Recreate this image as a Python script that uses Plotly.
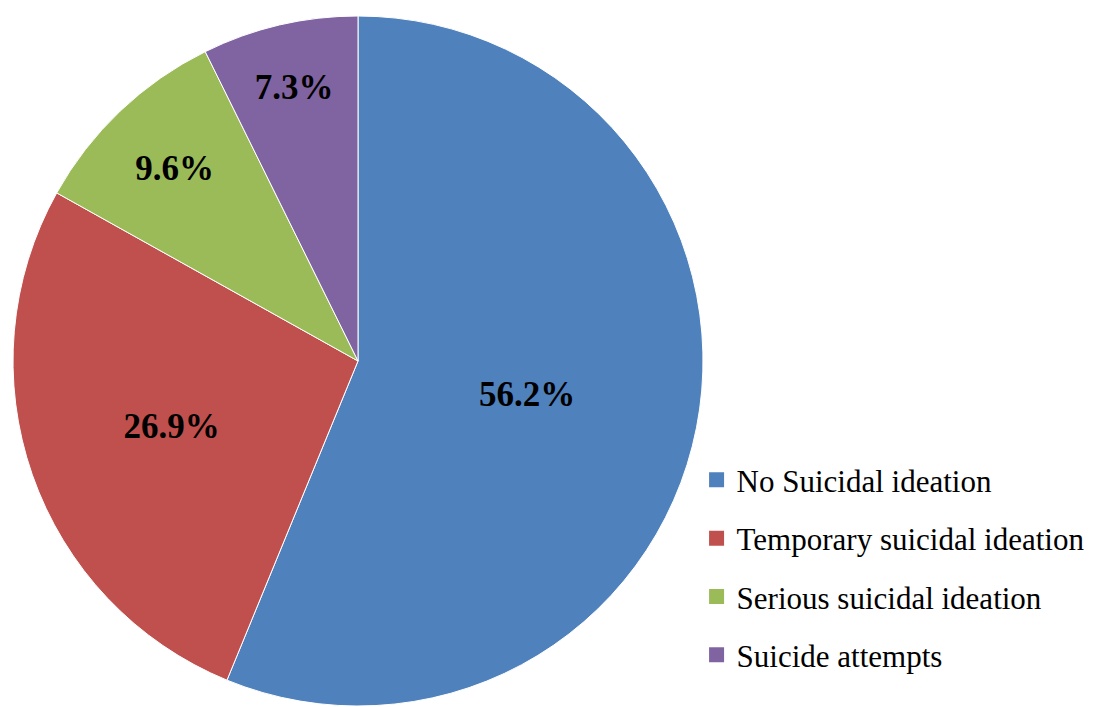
import plotly.graph_objects as go

categories = ["No Suicidal ideation", "Temporary suicidal ideation",
              "Serious suicidal ideation", "Suicide attempts"]
values = [56.2, 26.9, 9.6, 7.3]
colors = ["#4F81BD", "#C0504D", "#9BBB59", "#8064A2"]

W, H = 1119, 707

fig = go.Figure()
fig.add_trace(go.Pie(
    labels=categories, values=values, sort=False, direction="clockwise",
    rotation=0,
    marker=dict(colors=colors, line=dict(color="white", width=1)),
    texttemplate="<b>%{value:.1f}%</b>", textposition="inside",
    insidetextorientation="horizontal",
    textfont=dict(family="Liberation Serif", size=35, color="black"),
    domain=dict(x=[13 / W, 703 / W], y=[1 - 706 / H, 1 - 16 / H]),
    showlegend=False, hoverinfo="label+percent",
))

for i, (c, col) in enumerate(zip(categories, colors)):
    fig.add_trace(go.Scatter(
        x=[None], y=[None], mode="markers", name=c, legendgroup=f"g{i}",
        marker=dict(symbol="square", size=15, color=col),
        showlegend=True,
    ))

fig.update_layout(
    width=W, height=H,
    margin=dict(l=0, r=0, t=0, b=0),
    paper_bgcolor="white", plot_bgcolor="white",
    xaxis=dict(visible=False), yaxis=dict(visible=False),
    legend=dict(
        x=0.6225, y=0.197, xanchor="left", yanchor="middle",
        font=dict(family="Liberation Serif", size=31, color="black"),
        tracegroupgap=15, bgcolor="rgba(0,0,0,0)",
    ),
)

fig.write_html("out.html")
